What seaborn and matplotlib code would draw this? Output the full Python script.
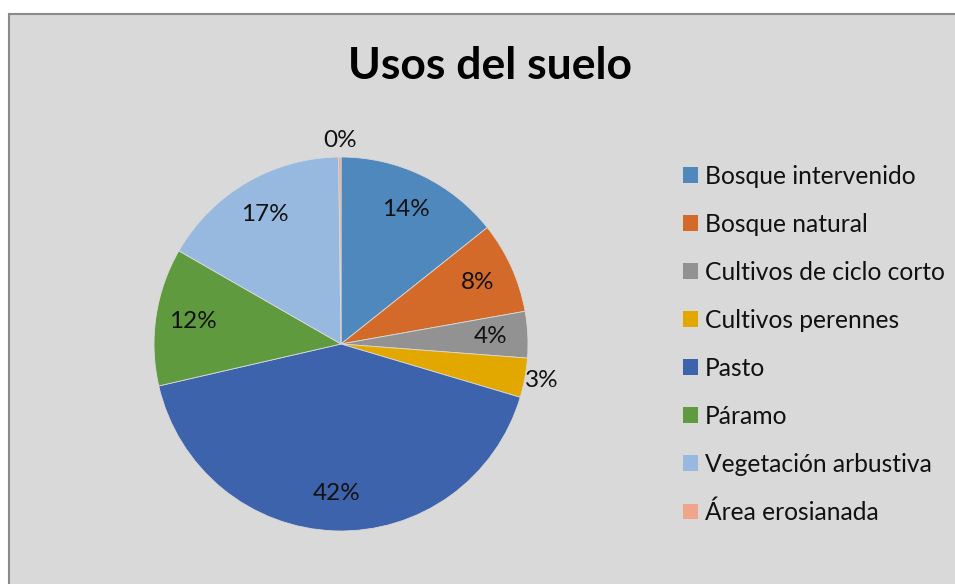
import seaborn as sns
import matplotlib.pyplot as plt
from matplotlib.patches import Rectangle, Patch
import numpy as np

# land use categories and their shares (percent)
categorias = ['Bosque intervenido', 'Bosque natural', 'Cultivos de ciclo corto',
              'Cultivos perennes', 'Pasto', 'Páramo', 'Vegetación arbustiva',
              'Área erosianada']
porcentajes = [14.3, 7.9, 4.0, 3.4, 41.8, 11.9, 16.5, 0.2]
etiquetas = ['14%', '8%', '4%', '3%', '42%', '12%', '17%', '0%']
colores = ['#4f88bd', '#d46a2a', '#929292', '#e2a800',
           '#3d63ad', '#5f9a3e', '#98b9df', '#f0a58a']

sns.set_style('white')
plt.rcParams['font.family'] = ['Lato', 'DejaVu Sans']
palette = sns.color_palette(colores)

W, H = 955, 584
fig = plt.figure(figsize=(W / 100, H / 100), dpi=100)
fig.patch.set_facecolor('white')

# gray chart area with a border on the left and top
fig.patches.append(Rectangle((9 / W, -0.01), 1.0, 1 - 14 / H + 0.01,
                             transform=fig.transFigure, facecolor='#d9d9d9',
                             edgecolor='#8a8a8a', linewidth=1.5, zorder=-10))

cx, cy, r = 341, 344, 187
ax = fig.add_axes([(cx - r) / W, (H - cy - r) / H, 2 * r / W, 2 * r / H])
ax.set_facecolor('none')
wedges, _ = ax.pie(porcentajes, colors=palette, startangle=90, counterclock=False,
                   radius=1, wedgeprops=dict(linewidth=0.6, edgecolor='#d9d9d9'))
ax.set_xlim(-1, 1)
ax.set_ylim(-1, 1)
ax.set_aspect('equal')
ax.axis('off')

# small slices get their label outside the pie
fuera = {'3%', '0%'}
for w, lab in zip(wedges, etiquetas):
    ang = np.deg2rad((w.theta1 + w.theta2) / 2)
    d = 1.09 if lab in fuera else 0.8
    ax.text(d * np.cos(ang), d * np.sin(ang), lab, ha='center', va='center',
            fontsize=17.5, color='#111111', clip_on=False)

fig.text(490 / W, 1 - 66 / H, 'Usos del suelo', ha='center', va='center',
         fontsize=32, fontweight='bold', color='black')

handles = [Patch(facecolor=c, edgecolor='none') for c in palette]
fig.legend(handles, categorias, loc='upper left',
           bbox_to_anchor=(683 / W, 1 - 165 / H), frameon=False,
           fontsize=17.7, handlelength=0.61, handleheight=0.61,
           handletextpad=0.28, labelspacing=1.015, borderpad=0,
           borderaxespad=0, labelcolor='#111111')

fig.savefig('out.png', dpi=100)
